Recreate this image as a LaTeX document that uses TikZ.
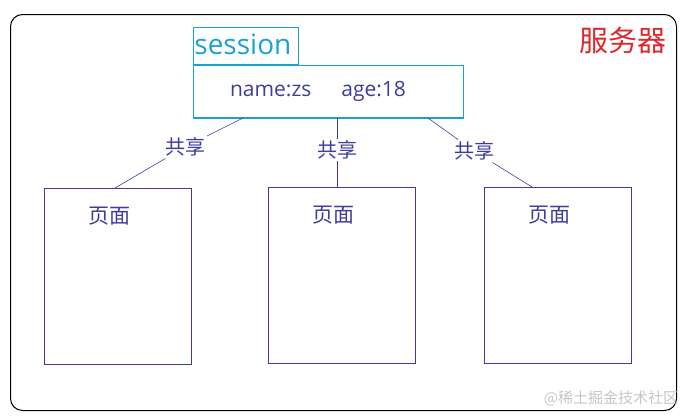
\documentclass[tikz,border=0pt]{standalone}
\usepackage{fontspec}
\setmainfont{Open Sans}
\newfontfamily\cjk{Noto Sans CJK SC}
\usepackage{tikz}
\usetikzlibrary{positioning}

\definecolor{inkblue}{HTML}{3D3D9E}
\definecolor{sesscyan}{HTML}{1BA1D3}
\definecolor{servred}{HTML}{E0262B}

\begin{document}
\begin{tikzpicture}[x=1pt, y=-1pt,
            sessbox/.style={draw=sesscyan, line width=1pt, minimum width=270pt, minimum height=52pt, anchor=north west},
            sesstab/.style={draw=sesscyan, line width=0.8pt, minimum width=105pt, minimum height=37pt, inner sep=1pt,
                text width=103pt, align=left, text=sesscyan, font=\fontsize{28}{28}\selectfont},
            pagebox/.style={draw=inkblue, line width=0.9pt, minimum width=147pt, minimum height=176pt, anchor=north west},
            pagetext/.style={text=inkblue, font=\cjk\fontsize{21}{21}\selectfont},
            sharetext/.style={text=inkblue, inner sep=2pt, font=\cjk\fontsize{20}{20}\selectfont},
            link/.style={draw=inkblue, line width=0.6pt}]

            \useasboundingbox (0,0) rectangle (687,418);

            % Server frame
            \node[draw, line width=1pt, rounded corners=12pt, minimum width=666pt, minimum height=396pt,
                anchor=north west] (server) at (10,14) {};
            \node[text=servred, font=\cjk\fontsize{29}{29}\selectfont] (servname) at (623,40) {服务器};

            % Session object
            \node[sessbox] (sess) at (193,65) {};
            \node[sesstab, anchor=south west] (tab) at (sess.north west) {\raisebox{4pt}{session}};
            \draw[draw=sesscyan, line width=2pt] (sess.south west) -- (sess.south east);
            \node[text=inkblue, font=\fontsize{21}{21}\selectfont] (data) at (318,91)
                {name:zs\hspace{30pt}age:18};

            % Pages
            \node[pagebox] (page1) at (44,188) {};
            \node[pagebox] (page2) at (268,187) {};
            \node[pagebox] (page3) at (484,187) {};
            \node[pagetext] (title1) at ([xshift=-8pt, yshift=-28pt]page1.north) {页面};
            \node[pagetext] (title2) at ([xshift=-8pt, yshift=-28pt]page2.north) {页面};
            \node[pagetext] (title3) at ([xshift=-8pt, yshift=-28pt]page3.north) {页面};

            % Shared links
            \node[sharetext] (share1) at (185,147) {共享};
            \node[sharetext] (share2) at (337,150) {共享};
            \node[sharetext] (share3) at (474,151) {共享};
            \draw[link] ([xshift=50pt]sess.south west) -- (share1) -- ([xshift=71pt]page1.north west);
            \draw[link] ([xshift=144pt]sess.south west) -- (share2) -- ([xshift=69pt]page2.north west);
            \draw[link] ([xshift=235pt]sess.south west) -- (share3) -- ([xshift=48pt]page3.north west);

            % Watermark
            \node[text=gray!45, font=\cjk\fontsize{15}{15}\selectfont] (mark) at (611,398) {@稀土掘金技术社区};
        \end{tikzpicture}
\end{document}
